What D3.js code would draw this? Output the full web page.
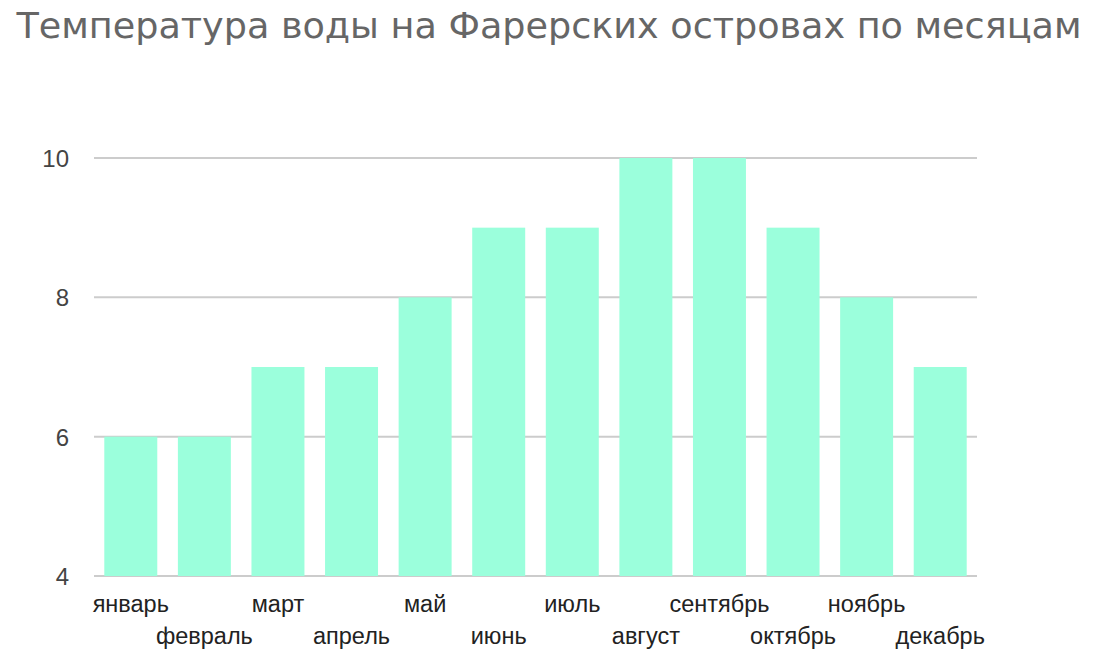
<!DOCTYPE html>
<html><head><meta charset="utf-8">
<script src="https://cdn.jsdelivr.net/npm/d3@7"></script>
<style>body{margin:0;background:#fff}svg{display:block}</style>
</head><body>
<script>
const months = ["январь","февраль","март","апрель","май","июнь","июль","август","сентябрь","октябрь","ноябрь","декабрь"];
const temps = [6,6,7,7,8,9,9,10,10,9,8,7];
const yTicks = [4,6,8,10];
const title = "Температура воды на Фарерских островах по месяцам";

const W=1098,H=667;
const svg=d3.select("body").append("svg").attr("width",W).attr("height",H);
const x=d3.scaleBand().domain(months).range([94,977]).paddingInner(0.28).paddingOuter(0.14);
const y=d3.scaleLinear().domain([4,10]).range([576,158]);

svg.append("g").selectAll("line").data(yTicks).join("line")
 .attr("x1",94).attr("x2",977).attr("y1",d=>y(d)).attr("y2",d=>y(d))
 .attr("stroke","#cccccc").attr("stroke-width",2);

svg.append("g").selectAll("rect").data(temps).join("rect")
 .attr("x",(d,i)=>x(months[i])).attr("width",x.bandwidth())
 .attr("y",d=>y(d)).attr("height",d=>y(4)-y(d)).attr("fill","#9bffdc");

svg.append("g").selectAll("text").data(yTicks).join("text")
 .attr("x",69).attr("y",d=>y(d)+9).attr("text-anchor","end")
 .attr("font-family","Liberation Sans, Arial, sans-serif").attr("font-size",24).attr("fill","#444")
 .text(d=>d);

svg.append("g").selectAll("text").data(months).join("text")
 .attr("x",d=>x(d)+x.bandwidth()/2).attr("y",(d,i)=>i%2===0?612:644)
 .attr("text-anchor","middle")
 .attr("font-family","Liberation Sans, Arial, sans-serif").attr("font-size",23.5).attr("fill","#222")
 .text(d=>d);

const t=svg.append("text").attr("x",549).attr("y",38).attr("text-anchor","middle")
 .attr("font-family","DejaVu Sans Condensed, DejaVu Sans, sans-serif").attr("font-size",35.5).attr("fill","#666")
 .text(title);
t.attr("textLength",1065).attr("lengthAdjust","spacingAndGlyphs");
</script>
</body></html>
